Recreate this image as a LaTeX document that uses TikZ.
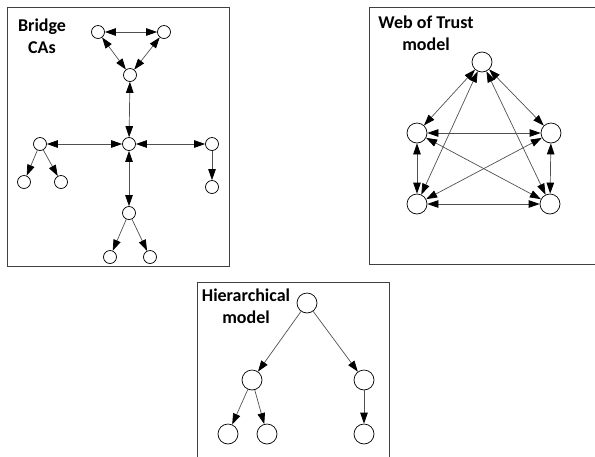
\documentclass[tikz,border=0pt]{standalone}
\usepackage{fontspec}
\setsansfont{Carlito}
\usepackage{xcolor}
\usepackage{tikz}
\usetikzlibrary{arrows.meta}
\definecolor{frame}{HTML}{404040}
\definecolor{wire}{HTML}{505050}
\tikzset{
  panel/.style={draw=frame, line width=0.9pt},
  ttl/.style={font=\sffamily\bfseries\fontsize{18}{22}\selectfont, align=center, inner sep=0pt},
  ca/.style={circle, draw=black, fill=white, line width=0.7pt, inner sep=0pt, minimum size=13pt},
  cab/.style={ca, minimum size=20pt},
  hd/.tip={Triangle[length=11pt,width=7.5pt,color=black,fill=black]},
  link/.style={draw=wire, line width=0.7pt, -{hd}},
  both/.style={link, {hd}-{hd}},
}

\begin{document}
\begin{tikzpicture}[x=1pt, y=-1pt]
  \useasboundingbox (0,0) rectangle (595,456);
  % panels
  \draw[panel] (7,7) rectangle (229,266);
  \draw[panel] (369,7) rectangle (600,264);
  \draw[panel] (197,282) -- (389,282) -- (389,460);
  \draw[panel] (197,282) -- (197,460);

  % bridge CAs
  \node[ttl] (tbr) at (42,36) {Bridge\\CAs};
  \node[ca] (t1) at (98,32) {};
  \node[ca] (t2) at (164,32) {};
  \node[ca] (t3) at (130,75) {};
  \node[ca] (c) at (129,144) {};
  \node[ca] (l) at (40,144) {};
  \node[ca] (r) at (212,144) {};
  \node[ca] (l1) at (24,182) {};
  \node[ca] (l2) at (61,182) {};
  \node[ca] (r1) at (212,187) {};
  \node[ca] (b) at (129,213) {};
  \node[ca] (b1) at (110,257) {};
  \node[ca] (b2) at (150,257) {};
  \draw[both] (t1) -- (t2);
  \draw[both] (t1) -- (t3);
  \draw[both] (t2) -- (t3);
  \draw[both] (t3) -- (c);
  \draw[both] (l) -- (c);
  \draw[both] (c) -- (r);
  \draw[both] (c) -- (b);
  \draw[link] (l) -- (l1);
  \draw[link] (l) -- (l2);
  \draw[link] (r) -- (r1);
  \draw[link] (b) -- (b1);
  \draw[link] (b) -- (b2);

  % web of trust
  \node[ttl] (twt) at (426,33) {Web of Trust\\model};
  \node[cab] (w1) at (482,62) {};
  \node[cab] (w2) at (417,133) {};
  \node[cab] (w3) at (551,133) {};
  \node[cab] (w4) at (417,204) {};
  \node[cab] (w5) at (550,204) {};
  \foreach \a/\b in {w1/w2,w1/w3,w1/w4,w1/w5,w2/w3,w2/w4,w2/w5,w3/w4,w3/w5,w4/w5}
    \draw[both] (\a) -- (\b);

  % hierarchical
  \node[ttl] (thi) at (246,306) {Hierarchical\\model};
  \node[cab] (h0) at (307,303) {};
  \node[cab] (h1) at (252,380) {};
  \node[cab] (h2) at (364,380) {};
  \node[cab] (h3) at (228,434) {};
  \node[cab] (h4) at (267,434) {};
  \node[cab] (h5) at (364,434) {};
  \draw[link] (h0) -- (h1);
  \draw[link] (h0) -- (h2);
  \draw[link] (h1) -- (h3);
  \draw[link] (h1) -- (h4);
  \draw[link] (h2) -- (h5);
\end{tikzpicture}
\end{document}
